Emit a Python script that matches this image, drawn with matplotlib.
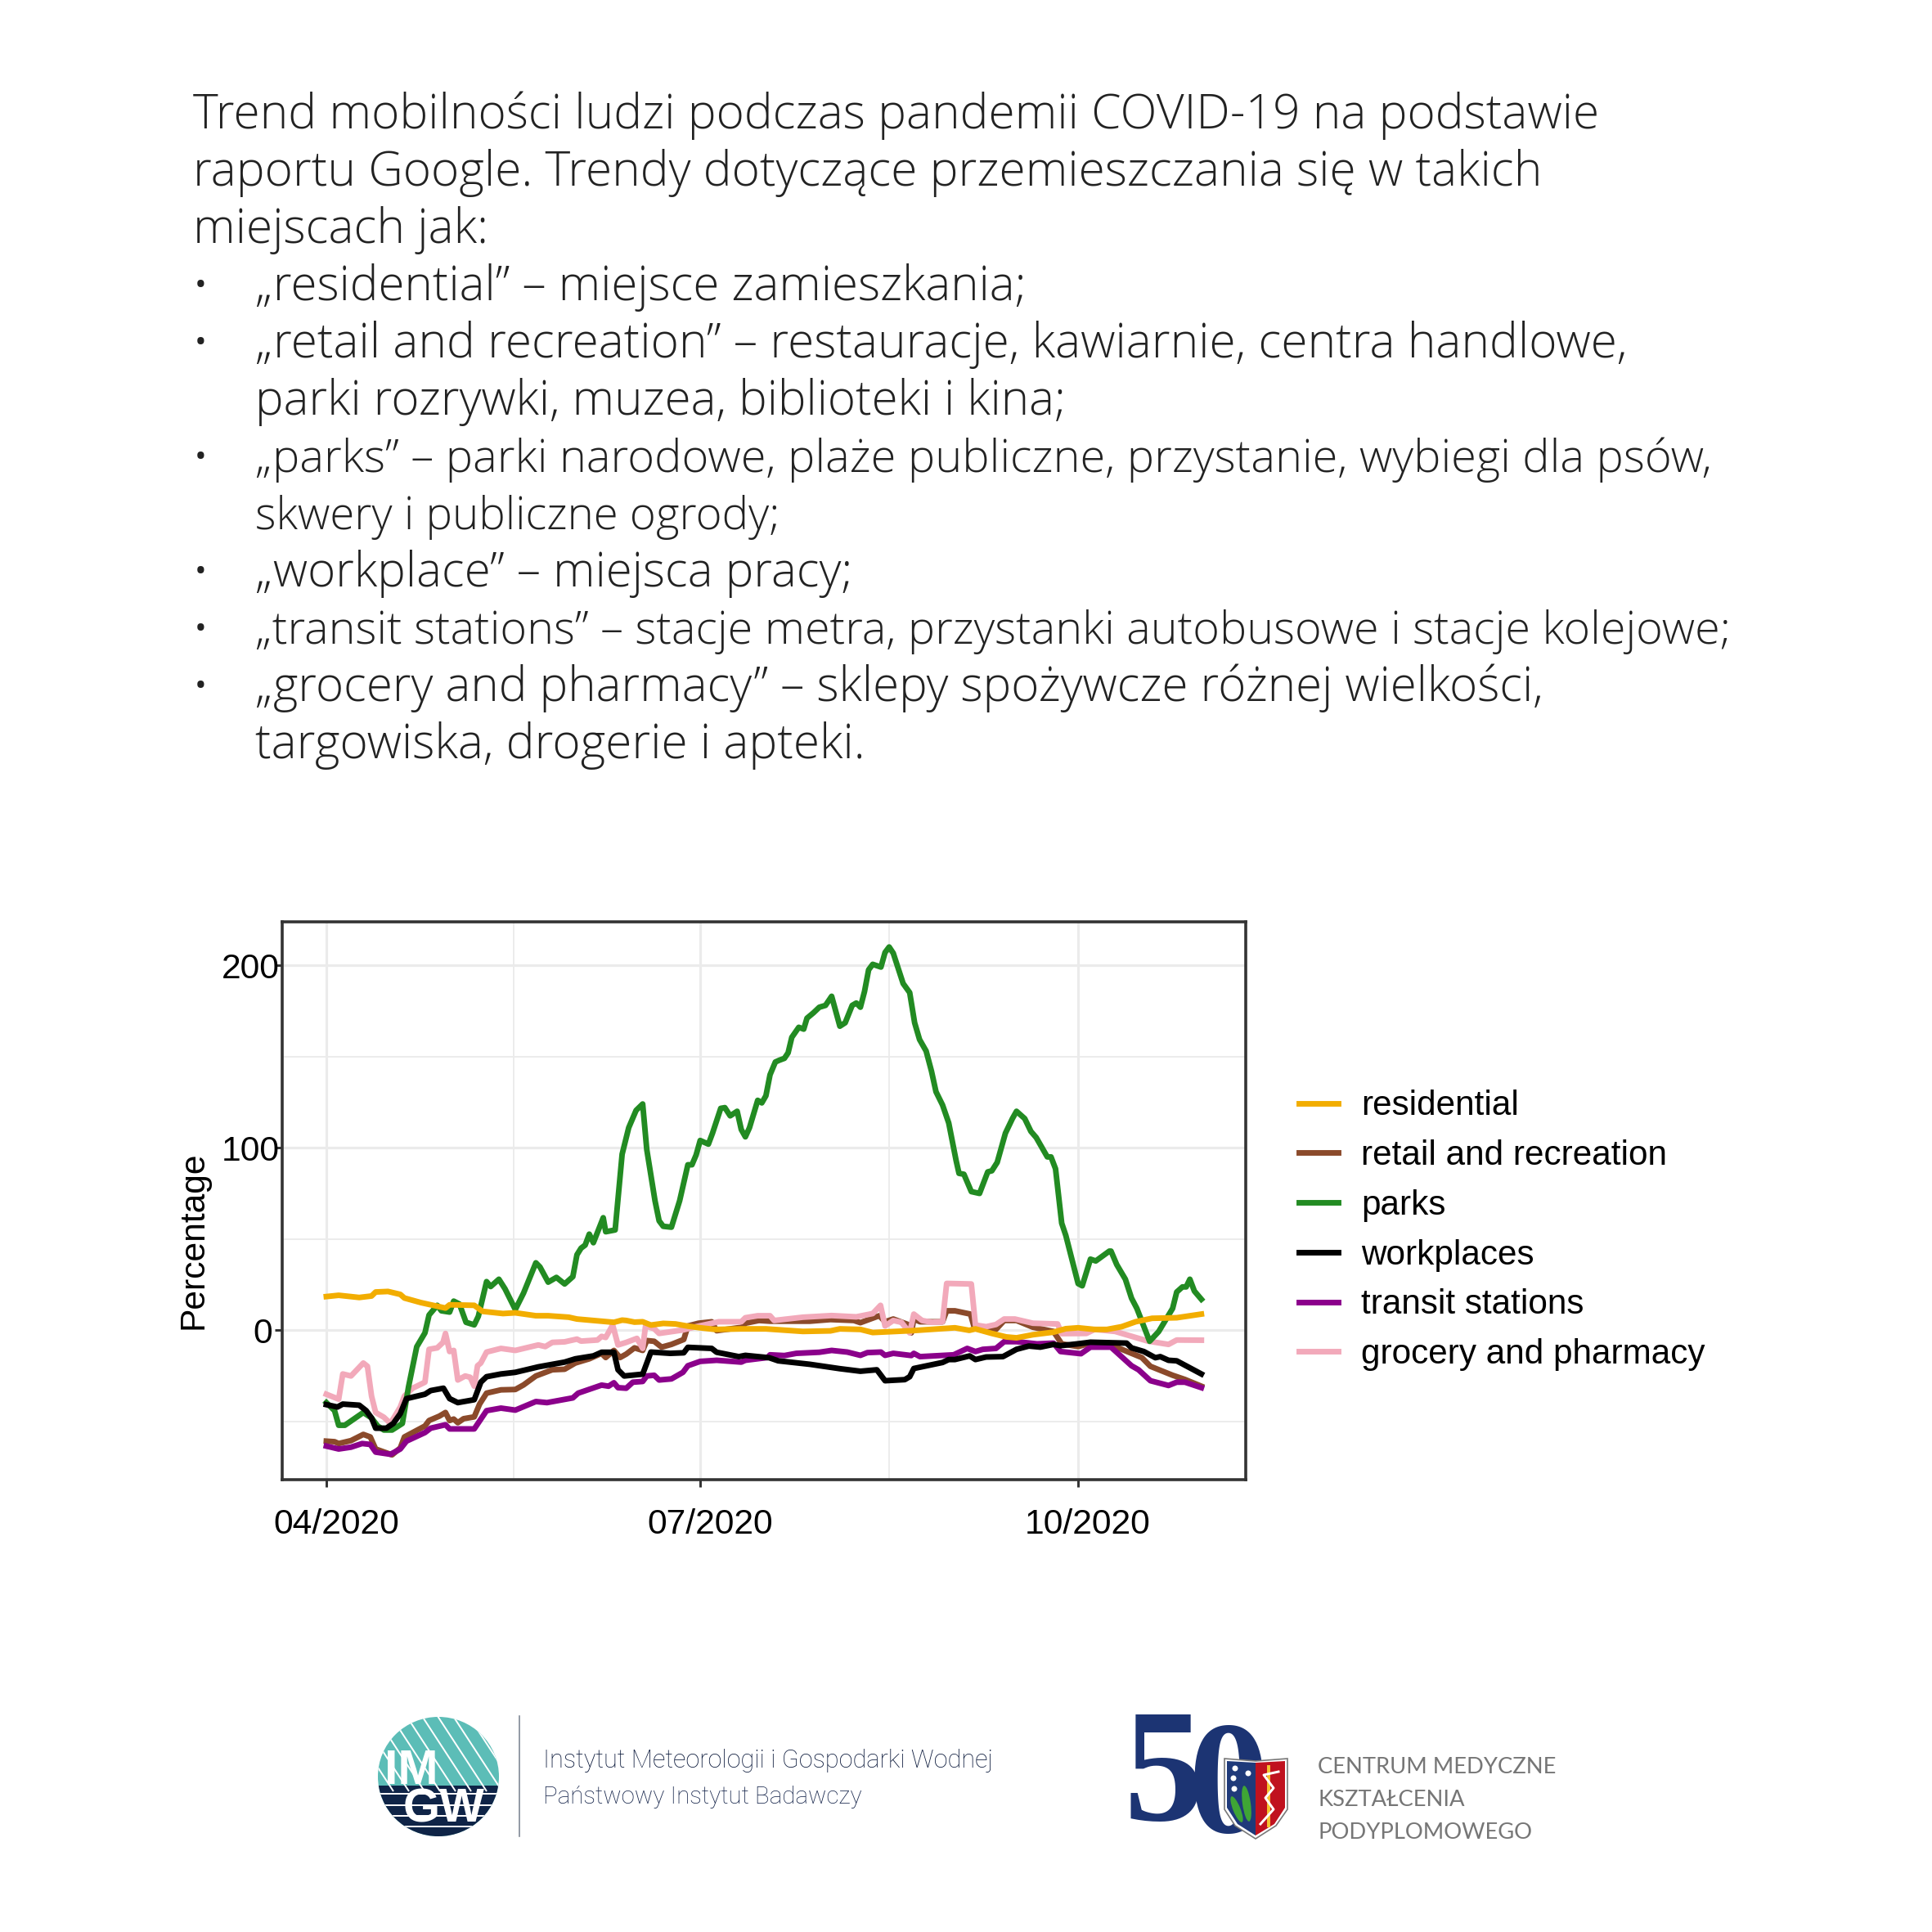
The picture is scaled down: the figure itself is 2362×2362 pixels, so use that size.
import matplotlib
matplotlib.use('Agg')
from matplotlib import pyplot as plt
from matplotlib.patches import Ellipse, Polygon, Rectangle
from matplotlib.transforms import ScaledTranslation

# days counted from 1 April 2020
residential_days = [0, 3, 8, 11, 12, 15, 18, 19, 23, 29, 30, 36, 38, 43, 46, 51, 54, 59, 61, 67, 70, 72, 73, 75, 77, 79, 82, 85, 88, 91, 94.6, 101, 107, 116, 122.7, 125, 130, 133, 142.4, 153, 156.5, 158, 162, 165.5, 168, 172, 177, 180, 183, 187, 190, 193.6, 197, 201, 207, 213]
residential_values = [18.5, 19.2, 18, 18.8, 21, 21.3, 19.7, 17.7, 15.2, 12.2, 14, 13.7, 10.4, 9.2, 9.6, 8, 8, 7.2, 6.2, 5, 4.4, 5.6, 5.4, 4.5, 4.7, 2.9, 3.8, 3.5, 2.3, 1.4, 0.5, 0.8, 0.8, -0.6, -0.3, 0.8, 0.5, -1.2, -0.2, 1.4, 0, 0.8, -1.7, -3.6, -4.1, -2.4, -1, 0.9, 1.4, 0.5, 0.5, 2, 4.7, 6.6, 6.9, 8.9]

retail_days = [0, 2, 3, 6, 9, 10.7, 12, 16, 18, 19, 24, 25, 27.5, 29, 30, 31, 32, 33.4, 36, 37.3, 39, 42.5, 46, 48, 51, 55, 58, 60.6, 64, 67, 68, 70, 71.5, 73, 75, 77, 78, 79.8, 81.6, 84, 87, 88, 90.6, 93.8, 95, 101.2, 102, 105.3, 108, 117.7, 122.7, 128.4, 130, 134.6, 136, 138, 141.6, 142.4, 143, 144.5, 150, 151, 153, 156.8, 157.7, 163, 165, 168, 172, 177, 179, 183, 186, 192, 198.5, 200.6, 206, 209, 213]
retail_values = [-60.7, -61, -62, -60.4, -57, -58.4, -65, -68.2, -64.4, -58.4, -52.4, -49.4, -47, -45, -49.4, -48.6, -50.6, -48.4, -47.4, -40.4, -34.4, -32.6, -32.4, -29.9, -25, -21.6, -21.3, -17.9, -15.6, -12.6, -14.9, -11, -14.9, -13, -9.6, -11, -5.6, -6, -9.2, -7.7, -5, 2.4, 3.9, 4.7, -0.2, 1.7, 3.9, 5.4, 5, 5, 5.9, 5.4, 4.2, 8, 4.7, 6.2, 3.2, -1.4, 6.2, 4.7, 4.7, 10.7, 10.7, 8.9, 1.7, 0.5, 5.4, 5.4, 1.7, -0.6, -7.4, -8.9, -7, -8.9, -14.9, -19.7, -24.6, -26.9, -30.6]

parks_days = [0, 2, 3, 4.5, 9, 11, 12.5, 14, 16, 18.5, 20, 22, 24, 25, 27, 28, 30, 31, 32.4, 34, 36, 37, 39, 40, 42, 43.5, 46, 48, 51, 52, 54, 56, 58, 60, 61, 62, 63, 64, 65, 67.4, 68, 70.3, 72, 73.6, 75.4, 77, 78, 80, 81, 82, 84, 86, 88, 89, 90, 91, 93, 94, 96, 97, 98.3, 100, 101, 102, 103, 105, 106, 107, 108, 109.3, 110.3, 111.5, 112.4, 113.3, 115, 116.2, 117, 118.6, 120, 121.5, 123, 125, 126.3, 128, 129, 130, 131, 132, 133, 135, 136, 137, 138, 140.4, 142, 143.2, 144.4, 146, 147.3, 148.4, 150, 151.5, 153.3, 154, 155.2, 157, 159, 161, 162, 163.3, 165.3, 167, 168, 170, 171.5, 172.8, 175.5, 176.4, 177.5, 179, 180, 183, 184, 186, 187.3, 190.6, 191, 192.4, 194.5, 196, 197.3, 200.4, 202.6, 206, 207, 208.4, 209.3, 210.2, 211.3, 213]
parks_values = [-39.6, -44, -52, -52, -45, -48, -52.4, -54.6, -54.6, -51, -31, -9, -1.4, 8.4, 13.7, 10.7, 10, 16, 14.4, 4.4, 3, 7.7, 26.7, 24, 28, 22.7, 11.4, 20.4, 37, 34.7, 26.4, 29, 25.4, 29.4, 41.4, 45, 46.7, 52.7, 48, 61.7, 54, 55, 96.5, 111, 120.5, 124, 99, 71, 60, 57, 56.5, 71, 90.7, 90.7, 96, 104, 102, 108, 121.6, 122, 117.5, 120, 110, 106, 111, 126, 124.6, 128.5, 140, 147, 148, 149, 152, 160.5, 166, 165, 171, 174, 177, 178, 183, 166.6, 168.5, 178, 179.3, 177, 185.6, 197.5, 200.5, 199, 207, 210, 206.6, 190, 185, 168.5, 159.3, 153, 142, 130.7, 123.4, 113.6, 93, 86, 85.5, 76, 75, 86.8, 87.4, 92, 108, 116, 120, 116, 109, 105.6, 95, 95, 88.5, 58.7, 52, 25.6, 24.4, 39, 38, 43.4, 43.4, 36, 28, 17.6, 12, -6, -0.7, 12, 21, 23.8, 23.8, 28, 21.5, 17]

workplaces_days = [0, 2.7, 4, 8, 9.7, 11, 12, 14.6, 16.3, 18, 19.5, 24, 25.4, 28.5, 30, 32, 36, 37.6, 39, 42.5, 46, 51.6, 58, 60.6, 65, 67, 70, 71, 72.5, 77, 79, 83.7, 87, 88, 93.8, 95, 100.4, 102, 107.8, 110, 117.7, 125, 130, 134, 136, 140.8, 142, 143, 150, 151.5, 153, 156.6, 158, 160.6, 164.7, 168, 171, 173.8, 177, 178.7, 182.8, 186, 194.8, 196, 199, 201.8, 203, 205, 207, 213]
workplaces_values = [-40.7, -42, -40.4, -41, -44, -48, -53.6, -53.6, -51, -45.6, -37.4, -35, -33, -31.7, -37.4, -39.6, -38, -28.4, -25.4, -23.9, -23, -20, -17.4, -15.6, -14, -12, -12, -21.6, -25, -24, -11.9, -12.6, -12.3, -9.3, -9.9, -12, -14.4, -13.7, -15, -16.7, -18.6, -21, -22.4, -21.6, -27.6, -27, -25.4, -20.9, -17.6, -16, -16, -14, -16, -14.6, -14.4, -10.4, -8.6, -9.2, -7.7, -8.4, -7.4, -6.5, -7, -9.6, -11.6, -15, -14.4, -16.4, -16.7, -23.9]

transit_days = [0, 3, 6, 8.7, 10.7, 12, 15.6, 18, 19.5, 24, 25.4, 29, 30, 36, 39, 42.5, 46, 51, 53.7, 60, 61.3, 67, 68.7, 70, 71, 73, 74.6, 77, 78, 79.8, 81, 84, 86.8, 88, 91, 95, 101, 102, 107.4, 108, 111.5, 114.4, 120, 123, 126.8, 130, 131.7, 135, 136, 138, 142.4, 143, 144.5, 152.7, 156, 158, 159.8, 163, 165, 168, 173, 177, 178.7, 183.7, 186, 191, 196, 197.7, 200.6, 205, 207, 209, 213]
transit_values = [-63.4, -65, -64, -62, -62.5, -66.7, -67.9, -65, -60.7, -56, -53.6, -51.7, -54, -54, -44, -42.6, -43.7, -39, -39.6, -37, -34.4, -30, -30.6, -28.7, -31.4, -31.7, -28.4, -28, -25, -24.6, -27.2, -26.6, -23, -19.4, -17, -16.4, -17.4, -16.4, -14.9, -13.4, -13.8, -12.6, -12, -11, -11.9, -13.7, -12.2, -11.9, -13.7, -12.6, -13.8, -12.6, -14.4, -13.4, -9.9, -11.6, -10.4, -9.9, -6.2, -6.2, -7.4, -7, -11.6, -12.8, -9.2, -9.2, -19.4, -21.6, -27.6, -30.2, -28.4, -28.4, -31.4]

grocery_days = [0, 3, 4, 6, 9, 10, 11, 12, 14, 15.6, 18, 19, 21, 24, 25, 27, 28.4, 29, 30, 31, 32, 33.8, 35, 36, 36.8, 37.6, 39, 42.5, 46, 51.6, 53.3, 55, 58, 61, 62, 66, 67, 68, 69.7, 71, 73, 75.6, 77, 77.7, 79.8, 81, 86.8, 90, 95.5, 101, 102, 105, 108, 109, 116, 123, 129, 133, 134.9, 136, 138, 140, 142, 143, 145, 147.4, 150, 151, 157, 158, 160.6, 163, 165, 167.6, 172, 178, 179, 185, 187, 192, 200, 205, 207, 213]
grocery_values = [-35, -37.7, -23.9, -25, -17.9, -19.7, -36, -45, -47.6, -51, -42, -36, -31.7, -28.4, -10.4, -9.6, -6.6, -1.7, -11.6, -11, -27.2, -25, -25.7, -30.6, -19.4, -17.9, -11.9, -9.9, -11, -8, -8.9, -6.6, -6.3, -4.8, -5.9, -5.3, -3.3, -3.9, 2.9, -8, -6.6, -4.4, -9.9, 2.4, 0.9, -1.7, 0.2, 2, 4.7, 4.7, 6.9, 8, 8, 5.4, 7.2, 8.1, 7.4, 9.2, 13.7, 2.4, 5.4, 4.4, -1.4, 8.9, 5.4, 4.4, 4.7, 25.7, 25.4, 2.9, 2, 3.2, 6.2, 6.2, 3.9, 3.5, -1.8, -1.7, 0.5, -0.6, -5.9, -7.7, -5.3, -5.4]

x_ticks = [0, 91, 183]
x_minor = [45.5, 137]
x_labels = ['04/2020', '07/2020', '10/2020']
y_ticks = [0, 100, 200]
y_minor = [-50, 50, 150]

# left edge, font size, text; three lines are set tighter in the original
title_lines = [
    (236, 17.87, 'Trend mobilności ludzi podczas pandemii COVID-19 na podstawie'),
    (236, 17.87, 'raportu Google. Trendy dotyczące przemieszczania się w takich'),
    (236, 17.87, 'miejscach jak:'),
    (312, 17.8, '„residential” – miejsce zamieszkania;'),
    (312, 17.87, '„retail and recreation” – restauracje, kawiarnie, centra handlowe,'),
    (312, 17.8, 'parki rozrywki, muzea, biblioteki i kina;'),
    (312, 17.07, '„parks” – parki narodowe, plaże publiczne, przystanie, wybiegi dla psów,'),
    (312, 16.65, 'skwery i publiczne ogrody;'),
    (312, 17.8, '„workplace” – miejsca pracy;'),
    (312, 17.0, '„transit stations” – stacje metra, przystanki autobusowe i stacje kolejowe;'),
    (312, 17.8, '„grocery and pharmacy” – sklepy spożywcze różnej wielkości,'),
    (312, 17.87, 'targowiska, drogerie i apteki.'),
]
bullet_rows = [3, 4, 6, 8, 9, 10]

W = 2362
DPI = 236.2
plt.rcParams['font.family'] = ['Liberation Sans', 'DejaVu Sans']


def main():
    fig = plt.figure(figsize=(W / DPI, W / DPI), dpi=DPI, facecolor='white')
    ax = fig.add_axes([345 / W, 1 - 1809 / W, (1523 - 345) / W, (1809 - 1126.5) / W])

    ax.plot(residential_days, residential_values, color='#F2AD00', lw=2.1, zorder=8, label='residential')
    ax.plot(retail_days, retail_values, color='#8B4A2B', lw=2.1, zorder=3, label='retail and recreation')
    ax.plot(parks_days, parks_values, color='#228B22', lw=2.1, zorder=5, label='parks')
    ax.plot(workplaces_days, workplaces_values, color='black', lw=2.1, zorder=7, label='workplaces')
    ax.plot(transit_days, transit_values, color='#8B008B', lw=2.1, zorder=6, label='transit stations')
    ax.plot(grocery_days, grocery_values, color='#F2A9BA', lw=2.1, zorder=4, label='grocery and pharmacy')

    ax.set_xlim(-10.75, 223.8)
    ax.set_ylim(-81.8, 224)
    ax.set_xticks(x_ticks, x_labels)
    ax.set_xticks(x_minor, minor=True)
    ax.set_yticks(y_ticks)
    ax.set_yticks(y_minor, minor=True)
    ax.grid(which='major', color='#EBEBEB', lw=0.95)
    ax.grid(which='minor', color='#EBEBEB', lw=0.55)
    ax.set_axisbelow(True)
    ax.tick_params(which='minor', length=0)
    ax.tick_params(axis='x', which='major', length=2.7, width=0.9, color='#333333', labelsize=13, pad=8)
    ax.tick_params(axis='y', which='major', length=2.7, width=0.9, color='#333333', labelsize=13, pad=-1.8)
    for lab in ax.get_xticklabels():
        lab.set_transform(lab.get_transform() + ScaledTranslation(12 / DPI, 0, fig.dpi_scale_trans))
    zero = ax.get_yticklabels()[0]
    zero.set_transform(zero.get_transform() + ScaledTranslation(-9 / DPI, 0, fig.dpi_scale_trans))
    for s in ax.spines.values():
        s.set_color('#333333')
        s.set_linewidth(1.1)

    ax.legend(loc='center left', bbox_to_anchor=(1.055, 0.4464), frameon=False, fontsize=12.9, handlelength=1.13,
              handletextpad=0.67, labelspacing=0.49, borderpad=0, borderaxespad=0)

    # overlay in picture pixels for the heading and the two logos
    ov = fig.add_axes([0, 0, 1, 1], zorder=-1)
    ov.set_xlim(0, W)
    ov.set_ylim(W, 0)
    ov.axis('off')

    ov.text(237, 1625, 'Percentage', rotation=90, ha='center', va='bottom', fontsize=13)

    for i, (x, size, line) in enumerate(title_lines):
        ov.text(x, 157 + i * 70, line, fontsize=size, family='Open Sans', weight='light', color='#222222',
                va='baseline')
    for i in bullet_rows:
        ov.text(245, 151 + i * 70, '•', fontsize=12, family='Open Sans', color='#222222', va='baseline', ha='center')

    # IMGW logo
    teal = Ellipse((536, 2172), 148, 146, color='#5CBDB7', lw=0)
    ov.add_patch(teal)
    for x0 in range(400, 660, 19):
        ln, = ov.plot([x0, x0 + 62], [2095, 2190], color='white', lw=0.6, solid_capstyle='butt')
        ln.set_clip_path(teal)
    navy = Rectangle((450, 2183), 172, 70, color='#0F2447', lw=0)
    ov.add_patch(navy)
    navy.set_clip_path(teal)
    for y in [2193, 2207, 2220, 2233]:
        ln, = ov.plot([450, 625], [y, y], color='white', lw=0.6, solid_capstyle='butt')
        ln.set_clip_path(teal)
    ov.text(470, 2181, 'IM', fontsize=18, family='Liberation Sans', weight='bold', color='white', va='baseline')
    ov.text(493, 2228, 'GW', fontsize=17.7, family='Liberation Sans', weight='bold', color='white', va='baseline')
    ov.plot([635, 635], [2098, 2245], color='#7F8794', lw=0.5)
    for y, s, c, size in [(2161, 'Instytut Meteorologii i Gospodarki Wodnej', '#0C1A3C', 9.35),
                          (2205, 'Państwowy Instytut Badawczy', '#15244A', 9.0)]:
        ov.text(664, y, s, fontsize=size, family='Roboto', weight='light', color=c, va='baseline')

    # 50 years logo
    ov.text(1374, 2225, '5', fontsize=60, family='Liberation Serif', weight='bold', color='#1C3473', va='baseline')
    ov.text(1453, 2240, '0', fontsize=60, family='Liberation Serif', weight='bold', color='#1C3473', va='baseline')
    edge = [(1497, 2150), (1535, 2153), (1574, 2150), (1574, 2212), (1560, 2232), (1535, 2248), (1510, 2232), (1497, 2212)]
    left = [(1500, 2153), (1535, 2155), (1535, 2244), (1513, 2230), (1500, 2210)]
    right = [(1535, 2155), (1571, 2153), (1571, 2210), (1558, 2230), (1535, 2244)]
    ov.add_patch(Polygon(edge, facecolor='white', edgecolor='#777777', lw=0.5, zorder=4))
    ov.add_patch(Polygon(left, facecolor='#1F3A7A', lw=0, zorder=5))
    ov.add_patch(Polygon(right, facecolor='#C0121F', lw=0, zorder=5))
    ov.add_patch(Ellipse((1524, 2205), 10, 44, angle=-8, color='#3FA535', lw=0, zorder=6))
    ov.add_patch(Ellipse((1512, 2212), 9, 34, angle=-22, color='#3FA535', lw=0, zorder=6))
    for x, y in [(1510, 2162), (1508, 2174), (1526, 2168), (1509, 2187)]:
        ov.add_patch(Ellipse((x, y), 7, 7, color='white', lw=0, zorder=6))
    ov.plot([1551, 1551], [2160, 2232], color='#F4C430', lw=1.2, zorder=6)
    ov.plot([1563, 1545, 1557, 1547, 1557, 1541], [2166, 2170, 2186, 2198, 2212, 2230], color='white', lw=0.9, zorder=7)
    for y, s in [(2168, 'CENTRUM MEDYCZNE'), (2208, 'KSZTAŁCENIA'), (2248, 'PODYPLOMOWEGO')]:
        ov.text(1611, y, s, fontsize=8.35, family='Lato', color='#767676', va='baseline')

    fig.savefig('out.png', dpi=DPI, facecolor='white')


if __name__ == "__main__":
    main()
